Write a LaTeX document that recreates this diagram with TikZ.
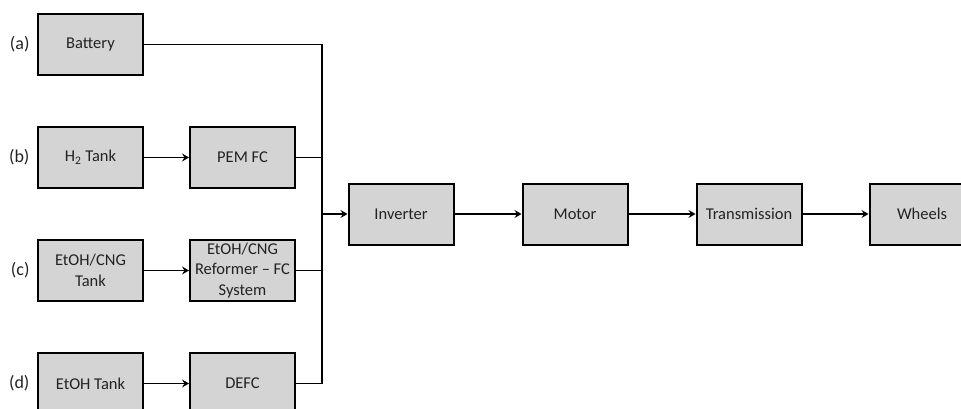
\documentclass[tikz,border=0pt]{standalone}
\usepackage{fontspec}
\setmainfont{Carlito}
\usetikzlibrary{arrows.meta,positioning}
\definecolor{boxgray}{HTML}{D4D4D4}
\definecolor{textgray}{HTML}{222222}

\begin{document}
\begin{tikzpicture}[
        >={Stealth[length=7pt,width=8pt,inset=2.5pt]},
        box/.style={draw, line width=2pt, fill=boxgray, minimum width=105pt,
          minimum height=61pt, inner sep=1pt, align=center,
          text=textgray, font=\fontsize{16.5}{20.5}\selectfont},
        tag/.style={text=textgray, font=\fontsize{18}{20}\selectfont},
        link/.style={line width=1.8pt},
        node distance=50pt and 45pt
        ]
        \useasboundingbox (0,0) rectangle (961pt,-409pt);

        % Energy storage column and converters
        \node[box] (battery)  at (90.5pt,-44.5pt) {Battery};
        \node[box] (htank)    [below=of battery]  {H\textsubscript{2} Tank};
        \node[box] (cngtank)  [below=of htank]    {EtOH/CNG\\Tank};
        \node[box] (etohtank) [below=of cngtank]  {EtOH Tank};
        \node[box] (pemfc)    [right=of htank]    {PEM FC};
        \node[box] (reformer) [right=of cngtank]  {EtOH/CNG\\Reformer -- FC\\System};
        \node[box] (defc)     [right=of etohtank] {DEFC};

        % Row labels
        \node[tag] (la) [left=4pt of battery]  {(a)};
        \node[tag] (lb) [left=4pt of htank]    {(b)};
        \node[tag] (lc) [left=4pt of cngtank]  {(c)};
        \node[tag] (ld) [left=4pt of etohtank] {(d)};

        % Drive train
        \coordinate (bus) at (322pt,-214pt);
        \node[box] (inverter) at (401pt,-214pt)          {Inverter};
        \node[box] (motor)    [right=67pt of inverter]   {Motor};
        \node[box] (trans)    [right=67pt of motor]      {Transmission};
        \node[box] (wheels)   [right=66pt of trans]      {Wheels};

        % Connections
        \draw[link, ->] (htank)   -- (pemfc);
        \draw[link, ->] (cngtank) -- (reformer);
        \draw[link, ->] (etohtank) -- (defc);
        \draw[link] (battery.east) -| (bus);
        \draw[link] (defc.east) -| (bus);
        \draw[link] (pemfc.east) -- (pemfc.east -| bus);
        \draw[link] (reformer.east) -- (reformer.east -| bus);
        \draw[link, ->] (bus) -- (inverter);
        \draw[link, ->] (inverter) -- (motor);
        \draw[link, ->] (motor) -- (trans);
        \draw[link, ->] (trans) -- (wheels);
      \end{tikzpicture}
\end{document}
